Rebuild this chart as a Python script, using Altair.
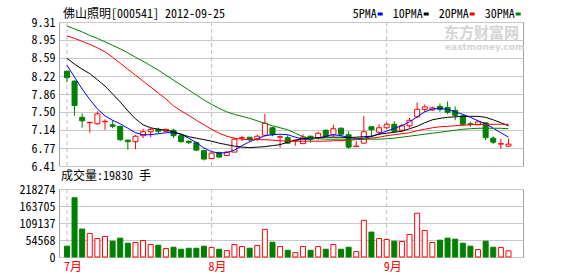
import altair as alt
import pandas as pd

FONT = "'Noto Sans Mono CJK SC', 'DejaVu Sans Mono', 'Noto Sans CJK SC', monospace"

title_text = "佛山照明[000541] 2012-09-25"
idx = list(range(59))

opens = [8.32, 8.12, 7.39, 7.28, 7.26, 7.30, 7.24, 7.21, 6.93, 6.90,
         7.02, 7.10, 7.15, 7.11, 7.13, 7.02, 6.91, 6.88, 6.72, 6.56,
         6.68, 6.62, 6.69, 6.97, 6.99, 6.95, 7.03, 7.18, 6.99, 6.98,
         6.92, 6.86, 7.01, 6.98, 7.13, 7.04, 7.17, 7.04, 6.80, 6.87,
         7.20, 7.09, 7.18, 7.25, 7.13, 7.22, 7.40, 7.55, 7.54, 7.61,
         7.59, 7.53, 7.42, 7.26, 7.24, 7.28, 6.97, 6.85, 6.81]
highs = [8.33, 8.13, 7.47, 7.29, 7.51, 7.35, 7.33, 7.22, 6.94, 7.03,
         7.16, 7.18, 7.18, 7.16, 7.16, 7.06, 6.92, 6.90, 6.74, 6.68,
         6.70, 6.71, 6.98, 7.02, 6.99, 7.04, 7.46, 7.20, 7.03, 7.03,
         6.93, 7.05, 7.02, 7.10, 7.15, 7.24, 7.19, 7.11, 6.91, 7.42,
         7.21, 7.25, 7.29, 7.31, 7.26, 7.38, 7.69, 7.65, 7.61, 7.67,
         7.71, 7.61, 7.44, 7.30, 7.30, 7.28, 7.01, 6.96, 6.96]
lows = [8.10, 7.42, 7.18, 7.08, 7.24, 7.14, 7.17, 6.91, 6.74, 6.75,
        6.97, 6.99, 7.06, 7.10, 6.97, 6.88, 6.85, 6.71, 6.52, 6.55,
        6.57, 6.61, 6.69, 6.91, 6.90, 6.92, 7.00, 7.01, 6.78, 6.86,
        6.82, 6.85, 6.88, 6.94, 6.98, 6.99, 7.01, 6.76, 6.80, 6.86,
        6.99, 7.03, 7.16, 7.08, 7.11, 7.18, 7.38, 7.50, 7.52, 7.50,
        7.45, 7.33, 7.24, 7.20, 7.24, 6.93, 6.85, 6.76, 6.80]
closes = [8.19, 7.63, 7.32, 7.29, 7.46, 7.31, 7.21, 6.94, 6.90, 7.01,
          7.10, 7.15, 7.11, 7.15, 7.02, 6.90, 6.88, 6.73, 6.55, 6.67,
          6.59, 6.69, 6.95, 6.98, 6.94, 7.01, 7.27, 7.04, 7.00, 6.87,
          6.93, 6.99, 6.95, 7.07, 7.01, 7.16, 7.05, 6.79, 6.81, 7.10,
          7.14, 7.18, 7.25, 7.11, 7.22, 7.33, 7.55, 7.60, 7.58, 7.55,
          7.49, 7.43, 7.25, 7.25, 7.30, 6.98, 6.89, 6.86, 6.85]
volumes = [34600, 190000, 89700, 75600, 59400, 65900, 50800, 60500, 44300, 46500,
           52900, 40000, 37800, 27000, 31300, 24900, 28100, 28100, 34600, 30300,
           24900, 20500, 40000, 33500, 28100, 36700, 88600, 47500, 33500, 21600,
           14000, 33500, 21600, 33500, 24900, 40000, 24900, 31300, 17300, 117800,
           80000, 59400, 56200, 50800, 49700, 72400, 140500, 85400, 46500, 54000,
           60500, 57300, 44300, 34600, 23800, 50800, 31300, 30300, 19830]

ma5 = [8.44, 8.20, 7.96, 7.75, 7.56, 7.42, 7.33, 7.26, 7.17, 7.08,
       7.04, 7.04, 7.06, 7.08, 7.08, 7.05, 6.97, 6.88, 6.77, 6.70,
       6.67, 6.68, 6.73, 6.82, 6.90, 6.96, 7.02, 7.04, 7.05, 7.04,
       6.99, 6.95, 6.95, 6.97, 7.01, 7.04, 7.02, 6.99, 6.96, 6.97,
       7.00, 7.06, 7.11, 7.17, 7.22, 7.30, 7.40, 7.50, 7.56, 7.57,
       7.55, 7.50, 7.45, 7.39, 7.32, 7.26, 7.17, 7.08, 6.99]
ma10 = [8.58, 8.46, 8.36, 8.27, 8.15, 8.02, 7.86, 7.70, 7.52, 7.36,
        7.24, 7.18, 7.15, 7.13, 7.10, 7.05, 7.00, 6.97, 6.94, 6.91,
        6.87, 6.84, 6.81, 6.79, 6.78, 6.79, 6.80, 6.82, 6.84, 6.89,
        6.93, 6.96, 6.97, 6.98, 6.99, 6.99, 6.99, 6.98, 6.99, 7.00,
        7.01, 7.05, 7.07, 7.09, 7.11, 7.16, 7.21, 7.28, 7.34, 7.37,
        7.39, 7.40, 7.41, 7.41, 7.41, 7.39, 7.34, 7.28, 7.22]
ma20 = [9.03, 8.98, 8.92, 8.86, 8.79, 8.71, 8.60, 8.48, 8.36, 8.24,
        8.12, 8.00, 7.88, 7.76, 7.62, 7.52, 7.43, 7.33, 7.24, 7.15,
        7.07, 7.01, 6.97, 6.95, 6.94, 6.94, 6.94, 6.93, 6.92, 6.91,
        6.91, 6.91, 6.91, 6.91, 6.91, 6.92, 6.92, 6.93, 6.94, 6.95,
        6.97, 6.99, 7.02, 7.04, 7.06, 7.08, 7.12, 7.15, 7.18, 7.20,
        7.21, 7.22, 7.23, 7.24, 7.25, 7.25, 7.25, 7.25, 7.25]
ma30 = [9.23, 9.17, 9.11, 9.04, 8.98, 8.91, 8.84, 8.77, 8.69, 8.60,
        8.52, 8.43, 8.34, 8.24, 8.14, 8.04, 7.94, 7.84, 7.74, 7.65,
        7.57, 7.50, 7.45, 7.41, 7.37, 7.32, 7.27, 7.22, 7.18, 7.14,
        7.07, 7.00, 6.97, 6.96, 6.95, 6.95, 6.95, 6.95, 6.95, 6.95,
        6.95, 6.95, 6.96, 6.97, 6.99, 7.01, 7.03, 7.05, 7.07, 7.09,
        7.11, 7.13, 7.15, 7.16, 7.17, 7.17, 7.17, 7.17, 7.16]

month_idx = [0, 19, 42]
month_labels = ["7月", "8月", "9月"]
price_ticks = [6.41, 6.77, 7.14, 7.50, 7.86, 8.22, 8.59, 8.95, 9.31]
vol_ticks = [0, 54568, 109137, 163705, 218274]
ma_names = ["5PMA", "10PMA", "20PMA", "30PMA"]
ma_colors = ["#0000ff", "#000000", "#ff0000", "#008000"]

UP, DOWN = "#ff0000", "#008000"
GRID = "#c8c8c8"

df = pd.DataFrame({"i": idx, "open": opens, "high": highs, "low": lows,
                   "close": closes, "volume": volumes})
df["color"] = [UP if c >= o else DOWN for o, c in zip(opens, closes)]
df["fill"] = ["#ffffff" if c >= o else DOWN for o, c in zip(opens, closes)]

ma_df = pd.concat([pd.DataFrame({"i": idx, "value": vals, "name": n})
                   for n, vals in zip(ma_names, [ma5, ma10, ma20, ma30])])
months_df = pd.DataFrame({"i": month_idx, "label": month_labels})

x_scale = alt.Scale(domain=[-0.386, 59.25], nice=False, zero=False)
y_scale = alt.Scale(domain=[6.41, 9.31], nice=False, zero=False)
y_axis = alt.Axis(values=price_ticks, format=".2f", title=None, ticks=False,
                  domain=False, grid=True, gridColor=GRID, labelPadding=4,
                  minExtent=52, maxExtent=52, labelFontSize=12, labelColor="#000000")
X = alt.X("i:Q", scale=x_scale, axis=None)

one = pd.DataFrame({"k": [0]})


def label(text, x, y, size=12, color="#000000", **kw):
    return alt.Chart(one).mark_text(text=text, align="left", baseline="middle", fontSize=size,
                                    color=color, **kw).encode(x=alt.value(x), y=alt.value(y))


vrules_top = alt.Chart(months_df).mark_rule(color="#c0c0c0", strokeDash=[4, 3]).encode(x=X)
wicks = alt.Chart(df).mark_rule(strokeWidth=1).encode(
    x=X, y=alt.Y("low:Q", scale=y_scale, axis=y_axis), y2="high:Q",
    color=alt.Color("color:N", scale=None))
bodies = alt.Chart(df).mark_bar(size=5, strokeWidth=1).encode(
    x=X, y=alt.Y("open:Q", scale=y_scale, axis=y_axis), y2="close:Q",
    fill=alt.Fill("fill:N", scale=None), stroke=alt.Stroke("color:N", scale=None))
lines = alt.Chart(ma_df).mark_line(strokeWidth=1).encode(
    x=X, y=alt.Y("value:Q", scale=y_scale, axis=y_axis),
    color=alt.Color("name:N", scale=alt.Scale(domain=ma_names, range=ma_colors), legend=None))

legend_layers = []
pos = 293.7
for name, col in zip(ma_names, ma_colors):
    legend_layers.append(label(name, pos, -8))
    d0 = pos + 6 * len(name) + 1
    legend_layers.append(alt.Chart(one).mark_rule(color=col, strokeWidth=3)
                         .encode(x=alt.value(d0), x2=alt.value(d0 + 5), y=alt.value(-8)))
    pos = d0 + 5 + 10

wm0 = label("ↀ", 362, 16, size=22, color="#d8d8d8", fontWeight="bold", font="DejaVu Sans")
wm1 = label("东方财富网", 385, 11, size=15, color="#d4d4d4", fontWeight="bold", font="Noto Sans CJK SC")
wm2 = label("eastmoney.com", 386, 25, size=9, color="#d4d4d4", fontWeight="bold", font="DejaVu Sans")
title_mark = label(title_text, 4, -8)

top = alt.layer(vrules_top, wm1, wm2, wicks, bodies, lines, title_mark, *legend_layers).properties(
    width=464, height=144)

XB = alt.X("i:Q", scale=x_scale, axis=None)
vol_axis = alt.Axis(values=vol_ticks, format="d", title=None, ticks=False, domain=False,
                    grid=True, gridColor=GRID, labelPadding=4, minExtent=52, maxExtent=52,
                    labelFontSize=12, labelColor="#000000")
vrules_bot = alt.Chart(months_df).mark_rule(color="#c0c0c0", strokeDash=[4, 3]).encode(x=XB)
month_text = alt.Chart(months_df).mark_text(align="left", baseline="middle", fontSize=12,
                                            color="#ff0000", dx=-3).encode(
    x=XB, y=alt.value(78), text="label:N")
vbars = alt.Chart(df).mark_bar(size=5, strokeWidth=1).encode(
    x=XB, y=alt.Y("volume:Q", scale=alt.Scale(domain=[0, 218274], nice=False), axis=vol_axis),
    fill=alt.Fill("fill:N", scale=None), stroke=alt.Stroke("color:N", scale=None))
vol_title = label(f"成交量:{volumes[-1]} 手", 2, -13)

bottom = alt.layer(vrules_bot, vbars, month_text, vol_title).properties(width=464, height=68)

chart = alt.vconcat(top, bottom, spacing=23, bounds="flush").properties(
    padding={"left": 6, "top": 7, "right": 5, "bottom": 3}
).configure(font=FONT, background="#ffffff").configure_view(stroke="#a0a0a0", strokeWidth=1)

chart.save("out.html", embed_options={"renderer": "svg", "actions": False})
